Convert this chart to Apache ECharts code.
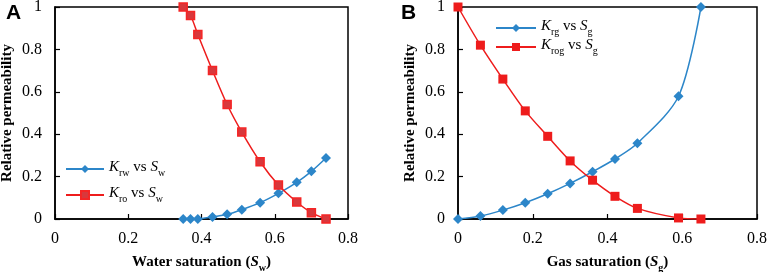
<!DOCTYPE html>
<html>
<head>
<meta charset="utf-8">
<script src="https://cdn.jsdelivr.net/npm/echarts@6/dist/echarts.min.js"></script>
<style>
  html, body { margin: 0; padding: 0; background: #fff; }
  #chart { width: 768px; height: 272px; }
</style>
</head>
<body>
<div id="chart"></div>
<script>
// panel A: water saturation
const swA = [0.35, 0.37, 0.39, 0.43, 0.47, 0.51, 0.56, 0.61, 0.66, 0.70, 0.74];
const krw = [0, 0, 0, 0.01, 0.022, 0.044, 0.077, 0.121, 0.173, 0.225, 0.288];
const kro = [1, 0.96, 0.87, 0.70, 0.54, 0.41, 0.27, 0.16, 0.08, 0.03, 0];
// panel B: gas saturation
const sgB = [0, 0.06, 0.12, 0.18, 0.24, 0.30, 0.36, 0.42, 0.48, 0.59, 0.65];
const krg = [0, 0.014, 0.042, 0.077, 0.119, 0.168, 0.223, 0.283, 0.357, 0.579, 1];
const krog = [1, 0.82, 0.66, 0.51, 0.39, 0.274, 0.183, 0.107, 0.05, 0.005, 0];

const legendLabels = {
  Krw: '{k|K}{s|rw}{t| vs }{k|S}{s|w}',
  Kro: '{k|K}{s|ro}{t| vs }{k|S}{s|w}',
  Krg: '{k|K}{s|rg}{t| vs }{k|S}{s|g}',
  Krog: '{k|K}{s|rog}{t| vs }{k|S}{s|g}'
};

const serif = '"Liberation Serif", "DejaVu Serif", serif';
const blue = '#2c86c9';
const red = '#ee1c1c';

function pairs(xs, ys) {
  return xs.map((x, i) => [x, ys[i]]);
}

const richLegend = {
  k: { fontFamily: serif, fontStyle: 'italic', fontSize: 15, color: '#000', verticalAlign: 'bottom', padding: [0, 0, 3, 0] },
  t: { fontFamily: serif, fontSize: 15, color: '#000', verticalAlign: 'bottom', padding: [0, 0, 3, 0] },
  s: { fontFamily: serif, fontSize: 10, color: '#000', verticalAlign: 'bottom' }
};

const richTitle = {
  b: { fontFamily: serif, fontWeight: 'bold', fontSize: 15, color: '#000', verticalAlign: 'bottom', padding: [0, 0, 3, 0] },
  i: { fontFamily: serif, fontWeight: 'bold', fontStyle: 'italic', fontSize: 15, color: '#000', verticalAlign: 'bottom', padding: [0, 0, 3, 0] },
  s: { fontFamily: serif, fontWeight: 'bold', fontSize: 10, color: '#000', verticalAlign: 'bottom' }
};

function xAxis(idx, nameStr) {
  return {
    type: 'value', gridIndex: idx, min: 0, max: 0.8, interval: 0.2,
    name: nameStr, nameLocation: 'middle', nameGap: 36,
    nameTextStyle: { rich: richTitle },
    axisLine: { show: true, onZero: false, lineStyle: { color: '#000', width: 1.5 } },
    axisTick: { show: true, inside: true, length: 5, lineStyle: { color: '#000', width: 1.2 } },
    axisLabel: { fontFamily: serif, fontSize: 16, color: '#000', margin: 12, formatter: v => String(+v.toFixed(1)) },
    splitLine: { show: false }
  };
}

function yAxis(idx) {
  return {
    type: 'value', gridIndex: idx, min: 0, max: 1, interval: 0.2,
    name: 'Relative permeability', nameLocation: 'middle', nameGap: 40,
    nameTextStyle: { fontFamily: serif, fontWeight: 'bold', fontSize: 15, color: '#000' },
    axisLine: { show: true, onZero: false, lineStyle: { color: '#000', width: 1.5 } },
    axisTick: { show: true, inside: true, length: 5, lineStyle: { color: '#000', width: 1.2 } },
    axisLabel: { fontFamily: serif, fontSize: 16, color: '#000', margin: 13, formatter: v => String(+v.toFixed(1)) },
    splitLine: { show: false }
  };
}

const chart = echarts.init(document.getElementById('chart'));

chart.setOption({
  animation: false,
  backgroundColor: '#fff',
  grid: [
    { left: 55, right: 420, top: 7, bottom: 53, outerBoundsMode: 'none', show: true, borderColor: '#000', borderWidth: 1.5 },
    { left: 458, right: 11, top: 7, bottom: 53, outerBoundsMode: 'none', show: true, borderColor: '#000', borderWidth: 1.5 }
  ],
  xAxis: [
    xAxis(0, '{b|Water saturation (}{i|S}{s|w}{b|)}'),
    xAxis(1, '{b|Gas saturation (}{i|S}{s|g}{b|)}')
  ],
  yAxis: [yAxis(0), yAxis(1)],
  legend: [
    {
      data: ['Krw', 'Kro'], orient: 'vertical', left: 60, top: 155,
      itemWidth: 38, itemHeight: 10, itemGap: 8,
      formatter: n => legendLabels[n],
      textStyle: { rich: richLegend }
    },
    {
      data: ['Krg', 'Krog'], orient: 'vertical', left: 490, top: 14,
      itemWidth: 40, itemHeight: 10, itemGap: 1,
      formatter: n => legendLabels[n],
      textStyle: { rich: richLegend }
    }
  ],
  graphic: [
    { type: 'text', left: 6, top: 3, style: { text: 'A', fontFamily: '"Liberation Sans", Arial, sans-serif', fontWeight: 'bold', fontSize: 21, fill: '#000' } },
    { type: 'text', left: 401, top: 3, style: { text: 'B', fontFamily: '"Liberation Sans", Arial, sans-serif', fontWeight: 'bold', fontSize: 21, fill: '#000' } }
  ],
  series: [
    {
      name: 'Krw', type: 'line', xAxisIndex: 0, yAxisIndex: 0, smooth: 0.3,
      data: pairs(swA, krw), symbol: 'diamond', symbolSize: 10,
      lineStyle: { color: blue, width: 1.5 }, itemStyle: { color: blue }
    },
    {
      name: 'Kro', type: 'line', xAxisIndex: 0, yAxisIndex: 0, smooth: 0.3,
      data: pairs(swA, kro), symbol: 'rect', symbolSize: 8,
      lineStyle: { color: red, width: 1.5 }, itemStyle: { color: '#d8383c', borderColor: '#f52525', borderWidth: 1.5 }
    },
    {
      name: 'Krg', type: 'line', xAxisIndex: 1, yAxisIndex: 1, smooth: 0.3,
      data: pairs(sgB, krg), symbol: 'diamond', symbolSize: 10,
      lineStyle: { color: blue, width: 1.5 }, itemStyle: { color: blue }
    },
    {
      name: 'Krog', type: 'line', xAxisIndex: 1, yAxisIndex: 1, smooth: 0.3,
      data: pairs(sgB, krog), symbol: 'rect', symbolSize: 9,
      lineStyle: { color: red, width: 1.5 }, itemStyle: { color: red }
    }
  ]
});
</script>
</body>
</html>
